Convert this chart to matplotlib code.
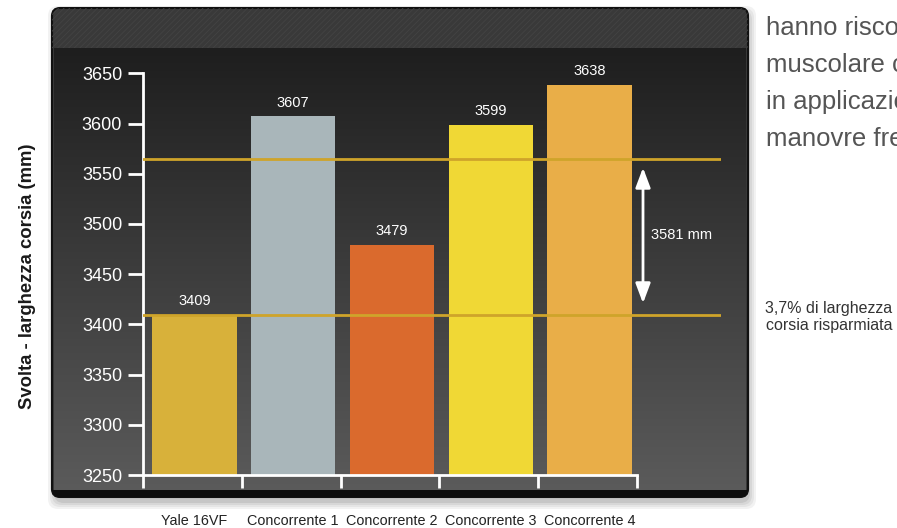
import numpy as np
import matplotlib
matplotlib.use('Agg')
import matplotlib.pyplot as plt
from matplotlib.patches import FancyBboxPatch, Rectangle

plt.rcParams['font.family'] = ['Liberation Sans', 'DejaVu Sans']

# Dati
categorie = ['Yale 16VF', 'Concorrente 1', 'Concorrente 2', 'Concorrente 3', 'Concorrente 4']
valori = [3409, 3607, 3479, 3599, 3638]
colori = ['#d8b13a', '#a9b6ba', '#da6a2d', '#f0d835', '#e9ae48']
y_ticks = [3250, 3300, 3350, 3400, 3450, 3500, 3550, 3600, 3650]
linea_alta = 3565
linea_bassa = 3409
testo_freccia = '3581 mm'
testo_risparmio = '3,7% di larghezza\ncorsia risparmiata'
testo_lato = ['hanno risco', 'muscolare c', 'in applicazio', 'manovre fre']

W, H = 897, 528
fig = plt.figure(figsize=(W / 100, H / 100), dpi=100)
fig.patch.set_facecolor('white')

# ===== SFONDO (pannello scuro) =====
bg = fig.add_axes([0, 0, 1, 1], zorder=0)
bg.set_xlim(0, W)
bg.set_ylim(H, 0)
bg.axis('off')

# ombra morbida
for i, a in enumerate([0.05, 0.05, 0.06, 0.08]):
    d = 8 - 2 * i
    bg.add_patch(FancyBboxPatch((52 - d + 4, 8 - d + 6), 696 + 2 * d - 4, 489 + 2 * d - 2,
                                boxstyle='round,pad=0,rounding_size=10',
                                fc='black', ec='none', alpha=a))

outer = FancyBboxPatch((52, 8), 696, 489, boxstyle='round,pad=0,rounding_size=8',
                       fc='#393939', ec='#111111', lw=1.5)
bg.add_patch(outer)
plt.rcParams['hatch.linewidth'] = 0.6
strip = Rectangle((52, 8), 696, 42, fc='none', ec='#434343', hatch='//////', lw=0)
bg.add_patch(strip)
strip.set_clip_path(outer)

grad = np.linspace(0, 1, 256).reshape(-1, 1)
img = bg.imshow(grad, extent=(54, 746, 492, 48), cmap=matplotlib.colors.LinearSegmentedColormap.from_list(
    'pan', ['#1e1e1e', '#5b5b5b']), aspect='auto', zorder=2)
img.set_clip_path(outer)
bg.add_patch(Rectangle((52, 490), 696, 7, fc='#0d0d0d', ec='none', zorder=3, clip_path=outer))

# ===== GRAFICO =====
ax = fig.add_axes([143 / W, (H - 475) / H, (721 - 143) / W, (475 - 73.3) / H], zorder=2)
ax.patch.set_alpha(0)
step = 98.8
ax.set_xlim(0, (721 - 143) / step)
ax.set_ylim(3250, 3650)

x = np.arange(len(categorie)) + 0.52
bars = ax.bar(x, valori, width=0.855, color=colori, zorder=2)
for xi, v in zip(x, valori):
    ax.annotate(str(v), (xi, v), xytext=(0, 5), textcoords='offset points',
                ha='center', va='bottom', color='white', fontsize=10.5)

for yv in [linea_alta, linea_bassa]:
    ax.axhline(yv, color='#cfa42a', lw=2, zorder=3)

xa = (643 - 143) / step
ax.annotate('', xy=(xa, linea_alta - 9), xytext=(xa, linea_bassa + 12),
            arrowprops=dict(arrowstyle='<|-|>,head_length=1.2,head_width=0.45',
                            color='white', lw=2, shrinkA=0, shrinkB=0))
ax.text(xa + 0.08, (linea_alta + linea_bassa) / 2 + 2, testo_freccia, color='white',
        fontsize=10.5, va='center', ha='left')

for s in ['top', 'right']:
    ax.spines[s].set_visible(False)
for s in ['left', 'bottom']:
    ax.spines[s].set_color('white')
    ax.spines[s].set_linewidth(2)
ax.spines['bottom'].set_bounds(0, len(categorie))

ax.set_yticks(y_ticks)
ax.tick_params(axis='y', colors='white', labelsize=13, length=11, width=2, pad=4)
ax.set_xticks(range(len(categorie) + 1), minor=True)
ax.tick_params(axis='x', which='minor', colors='white', length=9, width=2, direction='out')
ax.set_xticks(x)
ax.set_xticklabels(categorie)
ax.tick_params(axis='x', which='major', length=0, pad=28, labelsize=10.4, labelcolor='#222222')

fig.text(28 / W, 1 - 276 / H, 'Svolta - larghezza corsia (mm)', rotation=90,
         fontsize=13.3, fontweight='bold', color='#1a1a1a', ha='center', va='center')

# testo a destra (tagliato dal bordo come nell'originale)
fig.text(829 / W, 1 - 317 / H, testo_risparmio, fontsize=11.5, color='#333333',
         ha='center', va='center', linespacing=1.15)
for i, riga in enumerate(testo_lato):
    fig.text(766 / W, 1 - (35 + 37 * i) / H, riga, fontsize=18.5, color='#555555',
             ha='left', va='baseline')

plt.savefig('out.png', dpi=100)
plt.close()
